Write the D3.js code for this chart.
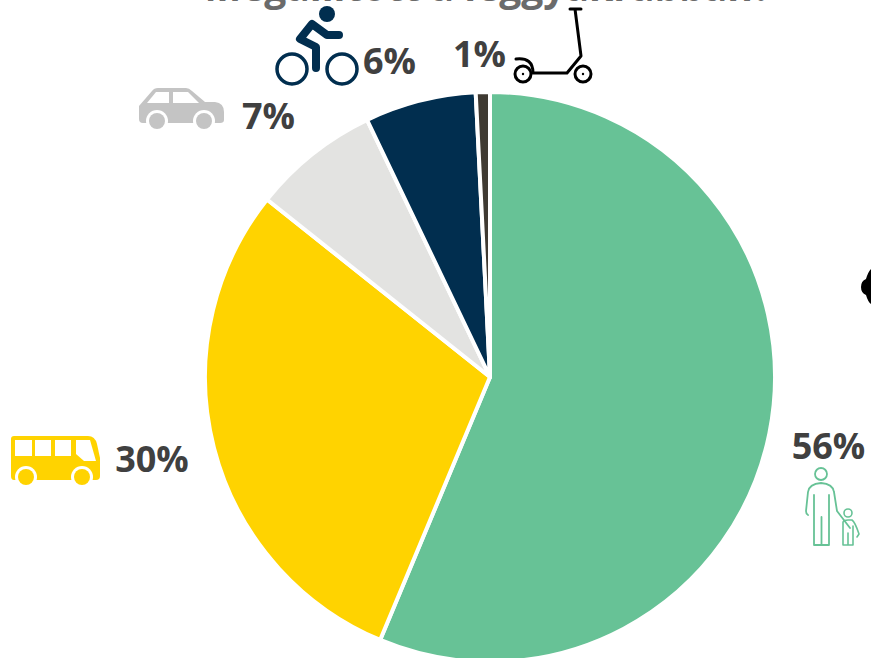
<!DOCTYPE html>
<html>
<head>
<meta charset="utf-8">
<script src="https://cdn.jsdelivr.net/npm/d3@7"></script>
<style>
  html, body { margin: 0; padding: 0; background: #fff; overflow: hidden; }
  text { font-family: "Open Sans", sans-serif; font-weight: 700; fill: #404040; }
</style>
</head>
<body>
<div id="chart"></div>
<script>
const modes = ['walk', 'bus', 'car', 'bike', 'scooter'];
const shares = [56.3, 29.4, 7.2, 6.3, 0.8];
const shareLabels = ['56%', '30%', '7%', '6%', '1%'];
const colors = ['#67c296', '#ffd300', '#e3e3e1', '#012e4f', '#3f3a32'];
const labelPositions = [[828.5, 459], [152, 472], [268.5, 129], [389.5, 74], [479.5, 67]];
const titleText = 'Megállított a leggyakrabban?';

const width = 871, height = 658;
const cx = 490, cy = 377, radius = 285;

const svg = d3.select('#chart')
    .append('svg')
    .attr('width', width)
    .attr('height', height);

// Title is cut off by the top of the picture, same as the source
svg.append('text')
    .attr('x', 488)
    .attr('y', 1)
    .attr('text-anchor', 'middle')
    .style('font-size', '39px')
    .style('fill', '#6b6b6b')
    .text(titleText);

const pie = d3.pie().sort(null).value(d => d);
const arc = d3.arc().innerRadius(0).outerRadius(radius);

svg.append('g')
    .attr('transform', 'translate(' + cx + ',' + cy + ')')
    .selectAll('path')
    .data(pie(shares))
    .enter()
    .append('path')
    .attr('d', arc)
    .attr('fill', (d, i) => colors[i])
    .attr('stroke', '#fff')
    .attr('stroke-width', 4)
    .attr('stroke-linejoin', 'round');

svg.selectAll('.share')
    .data(shareLabels)
    .enter()
    .append('text')
    .attr('class', 'share')
    .attr('x', (d, i) => labelPositions[i][0])
    .attr('y', (d, i) => labelPositions[i][1])
    .attr('text-anchor', 'middle')
    .style('font-size', '36px')
    .text(d => d);

// Icons
function drawBus(g, c) {
    g.append('path').attr('fill', c)
        .attr('d', 'M14,436 H88 Q95,436 97,444 L100,458 V476 Q100,480 96,480 H14 Q11,480 11,476 V439 Q11,436 14,436 Z');
    [[15, 32], [35, 51], [55, 71]].forEach(p => {
        g.append('rect').attr('x', p[0]).attr('y', 440).attr('width', p[1] - p[0]).attr('height', 16).attr('fill', '#fff');
    });
    g.append('path').attr('fill', '#fff').attr('d', 'M76,440 H90 L96,461 H84 L76,454 Z');
    [26, 82].forEach(x => {
        g.append('circle').attr('cx', x).attr('cy', 477).attr('r', 11).attr('fill', '#fff');
        g.append('circle').attr('cx', x).attr('cy', 477).attr('r', 8).attr('fill', c);
    });
}

function drawCar(g, c) {
    g.append('path').attr('fill', c)
        .attr('d', 'M139,106 L152,91 Q154,88 158,88 H186 Q189,88 192,91 L205,102 H215 Q224,103 224,112 V120 Q224,123 220,123 H143 Q139,123 139,119 Z');
    g.append('path').attr('fill', '#fff').attr('d', 'M147,103 L156,92 H169 V103 Z');
    g.append('path').attr('fill', '#fff').attr('d', 'M173,92 H188 L199,103 H173 Z');
    [157, 204].forEach(x => {
        g.append('circle').attr('cx', x).attr('cy', 121).attr('r', 11).attr('fill', '#fff');
        g.append('circle').attr('cx', x).attr('cy', 121).attr('r', 8).attr('fill', c);
    });
}

function drawBike(g, c) {
    [292, 342].forEach(x => {
        g.append('circle').attr('cx', x).attr('cy', 69).attr('r', 15).attr('fill', 'none').attr('stroke', c).attr('stroke-width', 3.5);
    });
    g.append('circle').attr('cx', 327).attr('cy', 14).attr('r', 8).attr('fill', c);
    g.append('path').attr('fill', 'none').attr('stroke', c).attr('stroke-width', 8)
        .attr('stroke-linecap', 'round').attr('stroke-linejoin', 'round')
        .attr('d', 'M339,35 H327 L312,24 L300,39 L316,47 V68');
}

function drawScooter(g, c) {
    g.append('path').attr('fill', 'none').attr('stroke', c).attr('stroke-width', 3)
        .attr('stroke-linecap', 'round').attr('stroke-linejoin', 'round')
        .attr('d', 'M570,9 H581 M575,9 L581,56 L567,73 H533 M516,59 Q533,57 533,73');
    [[523, 74], [583, 74]].forEach(p => {
        g.append('circle').attr('cx', p[0]).attr('cy', p[1]).attr('r', 8).attr('fill', 'none').attr('stroke', c).attr('stroke-width', 3);
        g.append('circle').attr('cx', p[0]).attr('cy', p[1]).attr('r', 1.2).attr('fill', c);
    });
}

function drawWalkers(g, c) {
    const line = (d, w) => g.append('path').attr('d', d).attr('fill', 'none').attr('stroke', c)
        .attr('stroke-width', w).attr('stroke-linecap', 'round').attr('stroke-linejoin', 'round');
    g.append('circle').attr('cx', 821).attr('cy', 474).attr('r', 6).attr('fill', 'none').attr('stroke', c).attr('stroke-width', 1.8);
    line('M808,515 Q806,514 806,511 L808,492 Q809,484 821,483 Q833,484 834,492 L837,511 L850,528', 1.8);
    line('M814,495 V545 H829 V495 M821.5,517 V545', 1.8);
    g.append('circle').attr('cx', 848).attr('cy', 513).attr('r', 4).attr('fill', 'none').attr('stroke', c).attr('stroke-width', 1.6);
    line('M843,545 V522 Q844,520 848,520 H852 Q855,522 859,534 L857,537 M853,526 V545 H843 M848,533 V545', 1.6);
}

function drawClipped(g, c) {
    // Second icon starts at the right edge of the picture, mostly cut off
    g.append('path').attr('fill', c)
        .attr('d', 'M871,269 Q868,272 866,279 Q861,281 861,287 Q861,293 866,295 Q868,302 871,304 Z');
}

const icons = svg.append('g');
drawBus(icons.append('g'), colors[1]);
drawCar(icons.append('g'), '#c4c4c4');
drawBike(icons.append('g'), colors[3]);
drawScooter(icons.append('g'), '#000');
drawWalkers(icons.append('g'), colors[0]);
drawClipped(icons.append('g'), '#000');
</script>
</body>
</html>
